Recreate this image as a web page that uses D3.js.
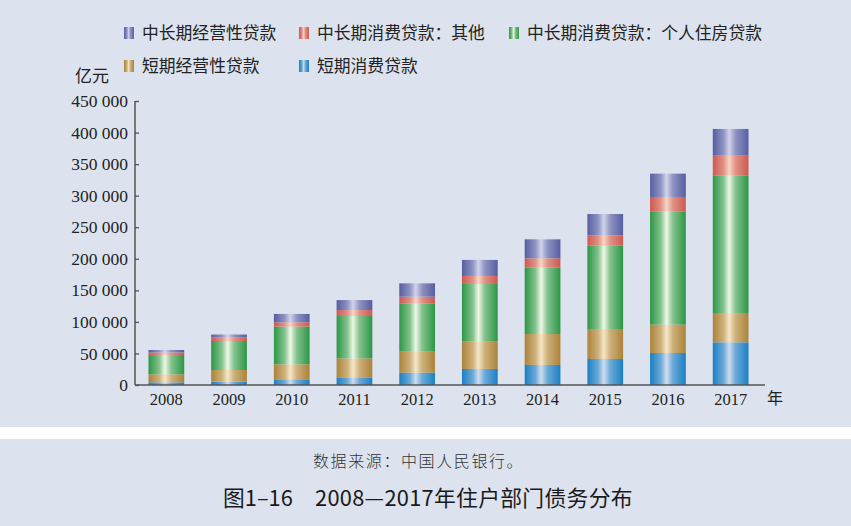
<!DOCTYPE html>
<html>
<head>
<meta charset="utf-8">
<script src="https://cdn.jsdelivr.net/npm/d3@7"></script>
<style>
  body { margin: 0; background: #fff; }
  svg { display: block; }
</style>
</head>
<body>
<div id="chart"></div>
<script>
// values in 亿元
var years = ["2008","2009","2010","2011","2012","2013","2014","2015","2016","2017"];
var shortConsumer = [4200, 5300, 9000, 12100, 19500, 25400, 31700, 41200, 50700, 67600];
var shortBusiness = [12700, 18500, 23800, 30100, 33300, 43300, 49100, 47500, 44900, 46500];
var housing = [30600, 45900, 59700, 67100, 76600, 91400, 105600, 132000, 179600, 218100];
var otherConsumer = [4000, 5500, 6900, 9500, 10600, 12700, 14300, 16400, 22700, 31200];
var longBusiness = [4000, 4800, 13200, 15800, 21100, 25400, 30100, 33800, 37000, 42300];
var yTicks = [0, 50000, 100000, 150000, 200000, 250000, 300000, 350000, 400000, 450000];

var keys = ["sc", "sb", "hs", "oc", "lb"];
var names = {sc: "短期消费贷款", sb: "短期经营性贷款", hs: "中长期消费贷款：个人住房贷款",
             oc: "中长期消费贷款：其他", lb: "中长期经营性贷款"};
// [edge colour, highlight colour]
var colors = {sc: ["#1a80c4", "#cfdcee"], sb: ["#ab833a", "#f6e6c8"], hs: ["#2c9646", "#eef8e4"],
              oc: ["#cd5850", "#f7d6c6"], lb: ["#575ea1", "#d2d3ea"]};

var data = years.map(function(y, i) {
  return {year: y, sc: shortConsumer[i], sb: shortBusiness[i], hs: housing[i], oc: otherConsumer[i], lb: longBusiness[i]};
});

var w = 851, h = 526;
var svg = d3.select("#chart").append("svg").attr("width", w).attr("height", h);

svg.append("rect").attr("width", w).attr("height", 427).attr("fill", "#dce3ee");
svg.append("rect").attr("y", 439).attr("width", w).attr("height", h - 439).attr("fill", "#dce3ee");

var defs = svg.append("defs");
keys.forEach(function(k) {
  var g = defs.append("linearGradient").attr("id", "grad_" + k)
      .attr("x1", "0%").attr("x2", "100%").attr("y1", "0%").attr("y2", "0%");
  var mid = d3.interpolateRgb(colors[k][0], colors[k][1])(0.45);
  g.append("stop").attr("offset", "0%").attr("stop-color", colors[k][0]);
  g.append("stop").attr("offset", "30%").attr("stop-color", mid);
  g.append("stop").attr("offset", "46%").attr("stop-color", colors[k][1]);
  g.append("stop").attr("offset", "64%").attr("stop-color", mid);
  g.append("stop").attr("offset", "100%").attr("stop-color", colors[k][0]);
});

var x0 = 135, x1 = 762, yBase = 385, yTop = 101;
var xscale = d3.scaleBand().domain(years).range([x0, x1]).paddingInner(0.43).paddingOuter(0.215);
var yscale = d3.scaleLinear().domain([0, 450000]).range([yBase, yTop]);

var series = d3.stack().keys(keys)(data);

svg.selectAll("g.layer")
  .data(series)
  .enter()
  .append("g")
    .attr("class", "layer")
    .attr("fill", function(d) { return "url(#grad_" + d.key + ")"; })
  .selectAll("rect")
  .data(function(d) { return d; })
  .enter()
  .append("rect")
    .attr("x", function(d) { return xscale(d.data.year); })
    .attr("y", function(d) { return yscale(d[1]); })
    .attr("width", xscale.bandwidth())
    .attr("height", function(d) { return yscale(d[0]) - yscale(d[1]); });

// y axis, ticks pointing inward
var yaxis = d3.axisRight(yscale).tickValues(yTicks).tickSize(4).tickFormat("");
var gy = svg.append("g").attr("transform", "translate(" + x0 + ",0)").call(yaxis);
gy.select(".domain").remove();
gy.selectAll(".tick line").attr("stroke", "#555").attr("stroke-width", 1.3);
svg.append("line").attr("x1", x0).attr("x2", x0).attr("y1", yTop).attr("y2", yBase)
  .attr("stroke", "#555").attr("stroke-width", 1.5);

svg.append("g").selectAll("text")
  .data(yTicks)
  .enter()
  .append("text")
    .attr("x", 128)
    .attr("y", function(d) { return yscale(d); })
    .attr("dy", "0.35em")
    .attr("text-anchor", "end")
    .attr("font-family", "Liberation Serif, serif")
    .attr("font-size", 17.5)
    .attr("fill", "#222")
    .text(function(d) { return d3.format(",")(d).replace(/,/g, " "); });

// x axis
var xaxis = d3.axisBottom(xscale).tickSize(0).tickPadding(8);
var gx = svg.append("g").attr("transform", "translate(0," + yBase + ")").call(xaxis);
gx.select(".domain").remove();
gx.selectAll("text").attr("font-family", "Liberation Serif, serif").attr("font-size", 16.5).attr("fill", "#222");
svg.append("line").attr("x1", x0).attr("x2", 765).attr("y1", yBase).attr("y2", yBase)
  .attr("stroke", "#555").attr("stroke-width", 1.5);

svg.append("text").attr("x", 767).attr("y", 404)
  .attr("font-family", "Noto Sans CJK SC").attr("font-size", 16).attr("fill", "#222").text("年");
svg.append("text").attr("x", 75).attr("y", 82)
  .attr("font-family", "Noto Sans CJK SC").attr("font-size", 17).attr("fill", "#222").text("亿元");

// legend
var legend = [
  {k: "lb", x: 124, y: 33}, {k: "oc", x: 299, y: 33}, {k: "hs", x: 509, y: 33},
  {k: "sb", x: 124, y: 66}, {k: "sc", x: 299, y: 66}
];
var lg = svg.append("g").selectAll("g").data(legend).enter().append("g")
  .attr("transform", function(d) { return "translate(" + d.x + "," + d.y + ")"; });
lg.append("rect").attr("x", 0).attr("y", -6).attr("width", 10).attr("height", 12)
  .attr("fill", function(d) { return "url(#grad_" + d.k + ")"; });
lg.append("text").attr("x", 18).attr("dy", "0.36em")
  .attr("font-family", "Noto Sans CJK SC").attr("font-size", 16.8).attr("fill", "#222")
  .text(function(d) { return names[d.k]; });

// captions
svg.append("text").attr("x", 313).attr("y", 467)
  .attr("font-family", "Noto Sans CJK SC").attr("font-size", 16).attr("font-weight", 300)
  .attr("letter-spacing", 1.6).attr("fill", "#333")
  .text("数据来源：中国人民银行。");
svg.append("text").attr("x", 223).attr("y", 506)
  .attr("font-family", "Noto Sans CJK SC").attr("font-size", 21.8).attr("fill", "#1a1a1a")
  .text("图1–16");
svg.append("text").attr("x", 315).attr("y", 506)
  .attr("font-family", "Noto Sans CJK SC").attr("font-size", 21.8).attr("fill", "#1a1a1a")
  .attr("letter-spacing", 0.3)
  .text("2008—2017年住户部门债务分布");
</script>
</body>
</html>
